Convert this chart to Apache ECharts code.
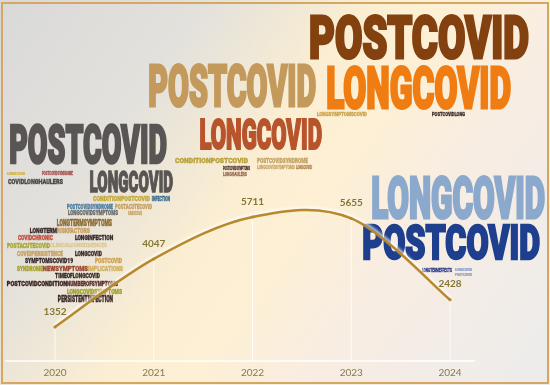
<!DOCTYPE html>
<html><head><meta charset="utf-8">
<script src="https://cdn.jsdelivr.net/npm/echarts@6/dist/echarts.min.js"></script>
<style>html,body{margin:0;padding:0;background:#fff}#c{width:550px;height:385px}</style>
</head><body><div id="c"></div>
<script>
// ---- data ----
const years = [2020, 2021, 2022, 2023, 2024];
const publications = [1352, 4047, 5711, 5655, 2428];

// ---- word-cloud annotations (text, colour, box x, y, w, h) : layout only ----
const wordLayout = [
  // 2023
  ['POSTCOVID','#83410f',310,13,219,47],
  ['LONGCOVID','#f07d12',327,65,184,45],
  ['LONGSYMPTOMSCOVID','#c9a24a',317,112,50,4],
  ['POSTCOVIDLONG','#3a2a2a',432,112,33,4],
  // 2022
  ['POSTCOVID','#c49a5c',149,62,167,46],
  ['LONGCOVID','#b8542c',200,117,122,34],
  ['CONDITIONPOSTCOVID','#b9a23a',175,157,73,6],
  ['POSTCOVIDSYNDROME','#c4a466',257,157,51,6],
  ['POSTCOVIDSYMPTOMS','#4a2a2a',223,166,27,4],
  ['LONGCOVIDSYMPTOMS','#c8a86a',257,165,38,4],
  ['LONGCOVID','#b08050',296,165,16,4],
  ['LONGHAULERS','#9a6a50',223,172,24,4],
  // 2021
  ['POSTCOVID','#5a5555',10,122,157,43],
  ['LONGCOVID','#5a5555',90,170,83,23],
  ['LONGCOVID','#d4b040',7,172,18,3],
  ['POSTCOVIDSYNDROME','#a04a4a',42,171,31,4],
  ['COVIDLONGHAULERS','#4a4a4a',8,178,55,6],
  ['CONDITIONPOSTCOVID','#c4a838',93,195,57,6],
  ['INFECTION','#3a6a8a',152,196,18,5],
  ['POSTCOVIDSYNDROME','#4a7ca0',67,204,46,5],
  ['POSTACUTECOVID','#c8a060',115,204,37,5],
  ['LONGCOVIDSYMPTOMS','#6a6a6a',68,210,50,5],
  ['SARSCOV2','#c8a060',128,211,14,4],
  ['LONGTERMSYMPTOMS','#8a6a30',57,219,55,7],
  ['LONGTERM','#3a2a2a',30,227,27,6],
  ['RISKFACTORS','#c8a060',57,227,33,6],
  ['COVIDCHRONIC','#c05040',18,234,35,6],
  ['LONGINFECTION','#3a2a2a',75,234,38,6],
  ['POSTACUTECOVID','#a8a830',7,243,43,5],
  ['CLINICALCONSEQUENCES','#dcc890',50,243,57,5],
  ['COVIDPERSISTENCE','#c8a060',17,250,46,6],
  ['LONGCOVID','#3a2a2a',75,250,27,6],
  ['SYMPTOMSCOVID19','#3a2a2a',25,258,48,5],
  ['POSTCOVID','#d0a050',95,258,27,5],
  ['SYNDROME','#a8a030',17,265,26,6],
  ['NEWSYMPTOMS','#9a4a30',43,265,45,6],
  ['IMPLICATIONS','#d0b060',88,265,35,6],
  ['TIMEOFLONGCOVID','#3a2a2a',55,272,45,6],
  ['POSTCOVIDCONDITION','#3a2020',7,280,60,6],
  ['NUMBEROFSYMPTOMS','#5a3030',67,280,51,6],
  ['LONGCOVIDSYMPTOMS','#a0a030',67,288,55,6],
  ['PERSISTENTINFECTION','#3a2a2a',58,295,55,7],
  // 2024
  ['LONGCOVID','#8ba9cd',372,175,173,45],
  ['POSTCOVID','#1d3f8e',363,223,177,38],
  ['LONGTERMEFFECTS','#2a3a8a',422,268,30,4],
  ['LONGCOVID','#8aa0c8',455,268,17,3],
  ['POSTCOVID','#8aa0c8',455,273,17,3]
];

const FONT = "900 100px Roboto, 'Liberation Sans', sans-serif";
const STROKE = 5;
const mctx = document.createElement('canvas').getContext('2d');
mctx.font = FONT;
mctx.textBaseline = 'middle';

function wordGraphic(w) {
  const [t, c, X, Y, W, H] = w;
  const m = mctx.measureText(t);
  const h = STROKE / 2;
  const left = -m.actualBoundingBoxLeft - h, right = m.actualBoundingBoxRight + h;
  const asc = m.actualBoundingBoxAscent + h, desc = m.actualBoundingBoxDescent + h;
  const sx = W / (right - left), sy = H / (asc + desc);
  return {
    type: 'text', z: 1, silent: true,
    x: X - sx * left, y: Y + sy * asc, scaleX: sx, scaleY: sy,
    style: { text: t, font: FONT, fill: c, stroke: c, lineWidth: STROKE, lineJoin: 'miter',
             align: 'left', verticalAlign: 'middle' }
  };
}

const chart = echarts.init(document.getElementById('c'), null, { renderer: 'canvas' });
const pts = years.map((y, i) => [y, publications[i]]);

// Catmull-Rom curve through the data points, positioned by the axes' scales
function renderCurve(params, api) {
  if (params.dataIndex !== 0) return null;
  const P = pts.map(p => api.coord(p));
  const n = P.length, k = 1 / 6;
  let d = 'M' + P[0][0] + ' ' + P[0][1];
  for (let i = 0; i < n - 1; i++) {
    const p0 = P[Math.max(i - 1, 0)], p1 = P[i], p2 = P[i + 1], p3 = P[Math.min(i + 2, n - 1)];
    const c1x = p1[0] + (p2[0] - p0[0]) * k, c1y = p1[1] + (p2[1] - p0[1]) * k;
    const c2x = p2[0] - (p3[0] - p1[0]) * k, c2y = p2[1] - (p3[1] - p1[1]) * k;
    d += ' C' + c1x + ' ' + c1y + ' ' + c2x + ' ' + c2y + ' ' + p2[0] + ' ' + p2[1];
  }
  return {
    type: 'path',
    shape: { pathData: d },
    style: {
      fill: 'none', stroke: '#b8892c', lineWidth: 2.5, lineCap: 'round',
      shadowColor: 'rgba(255,255,255,0.95)', shadowBlur: 3, shadowOffsetY: -2
    }
  };
}

chart.setOption({
  animation: false,
  grid: { left: 5.6, right: 75.3, top: 8, bottom: 24, containLabel: false, outerBoundsMode: 'none' },
  xAxis: {
    type: 'value', min: 2019.5, max: 2024.25, interval: 0.25,
    axisLine: { show: true, lineStyle: { color: '#ffffff', width: 1.5 } },
    axisTick: { show: false },
    splitLine: { show: false },
    axisLabel: {
      margin: 7, color: '#857a4a', fontSize: 10, fontFamily: 'Lato, sans-serif',
      formatter: v => (Math.abs(v - Math.round(v)) < 1e-6 ? String(Math.round(v)) : '')
    }
  },
  yAxis: { type: 'value', min: 0, max: 14000, show: false, splitLine: { show: false } },
  graphic: [
    {
      type: 'rect', z: -10, silent: true,
      shape: { x: 0, y: 0, width: 550, height: 385 },
      style: {
        fill: new echarts.graphic.LinearGradient(0, 0, 1, 1, [
          { offset: 0, color: '#d9d9d9' },
          { offset: 0.25, color: '#e3e1dc' },
          { offset: 0.45, color: '#fbeed2' },
          { offset: 0.55, color: '#fdf0d4' },
          { offset: 0.7, color: '#f8ede2' },
          { offset: 1, color: '#ececec' }
        ])
      }
    },
    {
      type: 'rect', z: 10, silent: true,
      shape: { x: 2, y: 3, width: 546, height: 380 },
      style: { fill: 'none', stroke: '#d4a862', lineWidth: 2 }
    }
  ].concat(wordLayout.map(wordGraphic)),
  series: [
    {
      type: 'bar', data: pts, barWidth: 1, silent: true, z: 1,
      itemStyle: { color: 'rgba(255,255,255,0.85)' }
    },
    {
      type: 'custom', data: pts, renderItem: renderCurve, silent: true, z: 2,
      clip: false
    },
    {
      type: 'line', data: pts, z: 3,
      symbol: 'circle', symbolSize: 3,
      itemStyle: { color: '#b8892c' },
      lineStyle: { width: 0, opacity: 0 },
      label: {
        show: true, position: 'top', distance: 9,
        color: '#857636', fontSize: 10, fontWeight: 'bold', fontFamily: 'Lato, sans-serif',
        formatter: p => String(p.value[1])
      }
    }
  ]
});
</script>
</body></html>
